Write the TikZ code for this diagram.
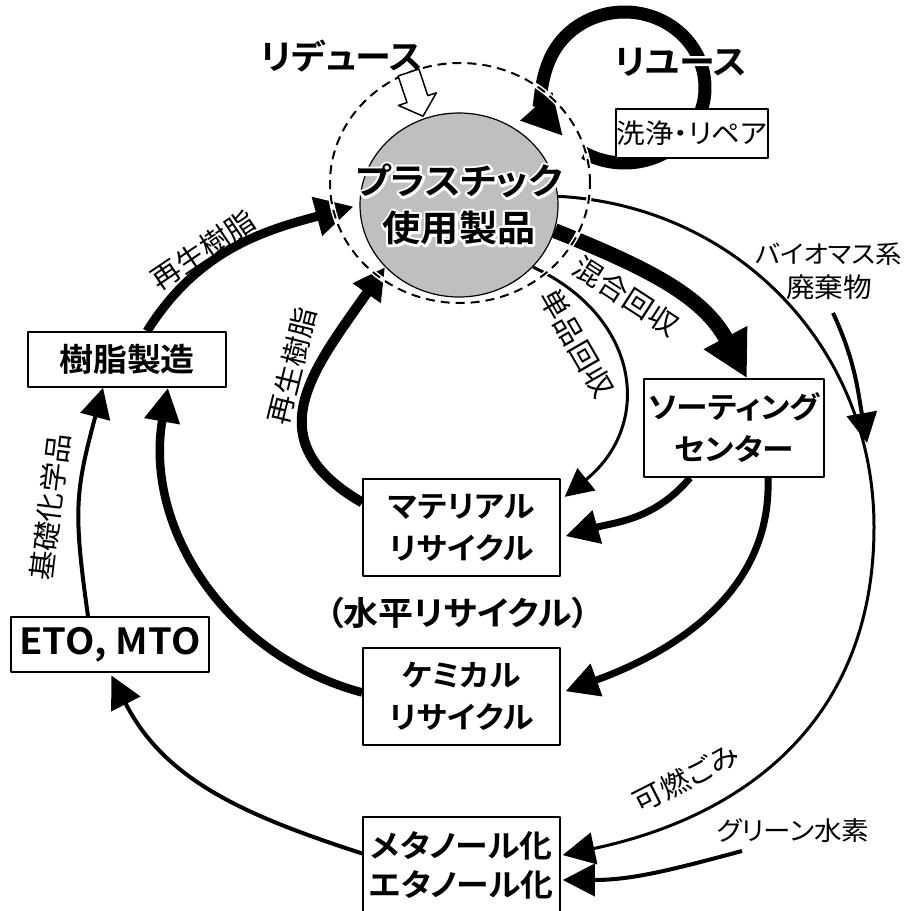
\documentclass[tikz,border=0pt]{standalone}
\usepackage{fontspec}
\setmainfont{Noto Sans CJK JP}[BoldFont={Noto Sans CJK JP Bold}, RawFeature={+palt}, FakeStretch=1.06]
\usetikzlibrary{arrows.meta, shapes.geometric}
\newcommand\myfs[2]{\fontsize{#1}{#2}\selectfont}
\newcommand\glowtxt[1]{\rlap{\special{pdf:literal direct 1 Tr 5 w 1 1 1 RG 1 j}#1\special{pdf:literal direct 0 Tr}}#1}
\pgfdeclarelayer{bg}
\pgfdeclarelayer{mid}
\pgfsetlayers{bg,mid,main}
\begin{document}
\begin{tikzpicture}[x=1pt, y=1pt, line join=round,
  box/.style={draw, line width=1.6pt, fill=white, inner sep=0pt, align=center},
  boxtxt/.style={font=\bfseries\myfs{30}{42}},
  lbl/.style={font=\myfs{28}{34}, inner sep=0pt},
  hd/.style={-{Triangle[length=#1, width=#1]}}
]
\useasboundingbox (0,0) rectangle (906,-911);

% ---------- nodes ----------
\node[ellipse, draw, line width=1.2pt, fill=black!25, minimum width=198pt, minimum height=184pt, inner sep=0pt] (prod) at (459,-205) {};
\node[font=\bfseries\myfs{36}{47}, align=center, inner sep=0pt] (prodtxt) at (459,-204.5) {\glowtxt{プラスチック}\\\glowtxt{使用製品}};

\node[box, minimum width=152pt, minimum height=49pt, font=\myfs{27}{30}] (wash) at (692,-133.5) {洗浄・リペア};
\node[box, minimum width=198pt, minimum height=55pt, font=\bfseries\myfs{32}{36}] (jushi) at (127,-359.5) {樹脂製造};
\node[box, minimum width=198pt, minimum height=55pt, font=\bfseries\myfs{36}{40}] (eto) at (110,-644.5) {ETO, MTO};
\node[box, boxtxt, minimum width=180pt, minimum height=98pt] (sort) at (734,-428) {ソーティング\\センター};
\node[box, boxtxt, minimum width=197pt, minimum height=97pt] (mat) at (461.5,-527.5) {マテリアル\\リサイクル};
\node[box, boxtxt, minimum width=197pt, minimum height=97pt] (chem) at (461.5,-696.5) {ケミカル\\リサイクル};
\node[box, minimum width=197pt, minimum height=97pt, font=\bfseries\myfs{31}{39}] (meth) at (461.5,-865.5) {メタノール化\\エタノール化};

\node[font=\bfseries\myfs{34}{40}, inner sep=0pt] (reduce) at (342,-56) {リデュース};
\node[font=\bfseries\myfs{34}{40}, inner sep=0pt] (reuse) at (681,-62) {\glowtxt{リユース}};
\node[font=\bfseries\myfs{33}{40}, inner sep=0pt] (horiz) at (458,-613) {（水平リサイクル）};

\node[lbl, rotate=34] (l1) at (203,-250) {再生樹脂};
\node[lbl, rotate=76] (l2) at (292,-366) {再生樹脂};
\node[lbl, rotate=-33] (l3) at (626,-296) {混合回収};
\node[lbl, rotate=-60] (l4) at (577,-343) {単品回収};
\node[lbl, rotate=83] (l5) at (50,-507) {基礎化学品};
\node[lbl, rotate=27] (l6) at (686,-778) {可燃ごみ};
\node[lbl, align=center, font=\myfs{25}{34}] (l7) at (829,-271) {バイオマス系\\\myfs{27}{34}廃棄物};
\node[lbl, font=\myfs{26}{34}] (l8) at (793,-831) {グリーン水素};

% reduce hollow arrow
\draw[fill=white, line width=1.5pt] (398.1,-76.0) -- (418.9,-69.0) -- (427.8,-95.6) -- (436.4,-92.8) -- (423.0,-116.2) -- (398.4,-105.4) -- (407.0,-102.6) -- cycle;

% ---------- dashed reduce ring ----------
\begin{pgfonlayer}{mid}
\draw[white, line width=5pt] (460,-183) ellipse [x radius=130, y radius=120];
\draw[black, line width=2pt, dash pattern=on 9pt off 6pt] (460,-183) ellipse [x radius=130, y radius=120];
\end{pgfonlayer}

% ---------- connectors ----------
\begin{pgfonlayer}{bg}
\coordinate (reusec) at (624.5,-87.5);
\coordinate (outerR) at (874,-527);
\coordinate (bio) at (833,-313);
\coordinate (biotip) at (867,-443);
\coordinate (green) at (742,-851);

% reuse loop
\draw[line width=13pt, hd=40pt] ([shift={(240:80.5 and 75.5)}]reusec) arc[start angle=240, end angle=580, x radius=80.5, y radius=75.5];

% outer recycled resin
\draw[line width=9pt, hd=38pt, shorten >=6pt] ([xshift=20pt]jushi.north) to[out=58, in=195] (prod.west);
% inner recycled resin
\draw[line width=10pt, hd=32pt] ([yshift=25pt]mat.west) to[out=150, in=235, looseness=1.35] (prod.220);
% mixed collection
\draw[line width=15pt, hd=46pt] (prod.-15) to[out=-22, in=118] ([xshift=13pt]sort.north);
% single collection
\draw[line width=3pt, hd=28pt, shorten >=5pt] (prod.-40) to[out=-25, in=39, looseness=1.3] ([yshift=27.5pt]mat.east);
% sorting -> material
\draw[line width=7pt, hd=33pt, shorten >=5pt] ([xshift=-44pt]sort.south) to[out=-130, in=16] ([yshift=-10pt]mat.east);
% sorting -> chemical
\draw[line width=7pt, hd=33pt, shorten >=5pt] ([xshift=34pt]sort.south) to[out=-88, in=20] ([yshift=3.5pt]chem.east);
% chemical -> resin production
\draw[line width=8.5pt, hd=34pt] ([yshift=4pt]chem.west) to[out=165, in=-100] ([xshift=41pt]jushi.south);
% ETO -> resin production
\draw[line width=4pt, hd=30pt] ([xshift=-22pt]eto.north) to[out=98, in=-105, looseness=1.2] ([xshift=-24pt]jushi.south);
% methanol -> ETO
\draw[line width=4pt, hd=32pt, shorten >=3pt] ([yshift=12pt]meth.west) to[out=162, in=-63] (eto.south);
% outer big arc (combustible waste)
\draw[line width=3pt, hd=32pt, shorten >=2pt] (prod.5) to[out=-3, in=90] (outerR) to[out=-90, in=12, looseness=1.08] ([yshift=10pt]meth.east);
% biomass
\draw[line width=4pt, hd=30pt] (bio) to[out=-65, in=100] (biotip);
% green hydrogen
\draw[line width=4pt, hd=32pt, shorten >=2pt] (green) to[out=195, in=0] ([yshift=-14.5pt]meth.east);
\end{pgfonlayer}
\end{tikzpicture}
\end{document}
